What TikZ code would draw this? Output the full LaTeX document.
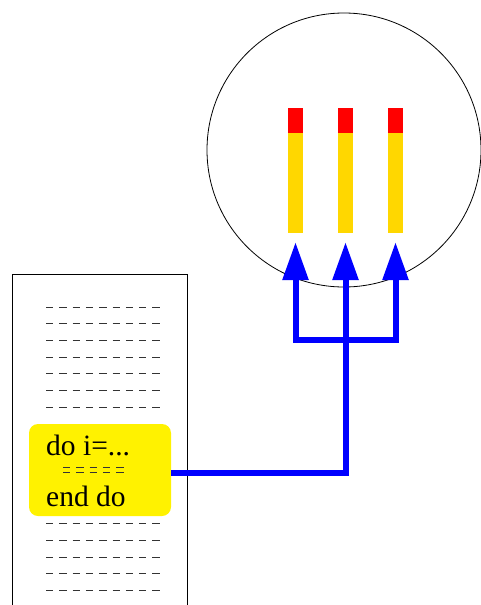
\documentclass[tikz,border=0pt]{standalone}
\usepackage{fontspec}
\setmainfont{Liberation Serif}
\usetikzlibrary{arrows.meta,positioning}

\definecolor{barGold}{RGB}{255,215,0}
\tikzset{bigtip/.tip={Triangle[width=25pt,length=38pt]}}

\begin{document}
\begin{tikzpicture}[x=1pt,y=1pt,
    codeline/.style={black!80,line width=0.9pt,dash pattern=on 7.3pt off 6pt},
    loopbox/.style={fill=yellow,rounded corners=9pt,minimum width=142pt,minimum height=92pt,inner sep=0pt},
    codetext/.style={anchor=base west,inner sep=0pt,font=\fontsize{29.5}{32}\selectfont},
    bar/.style={fill=barGold,minimum width=15pt,minimum height=100pt,inner sep=0pt},
    flow/.style={blue,line width=6pt}]
\useasboundingbox (0,0) rectangle (481,-605); % page size

% program listing
\draw[line width=0.8pt] (12,-605) -- (12,-274) -- (187,-274) -- (187,-605); % sheet
\foreach \y in {307,323.7,340.3,357,373.7,390.3,407,523,540,557,573,590}
    \draw[codeline] (46,-\y) -- (160,-\y); % code lines
\node[loopbox] (loop) at (100,-470) {};
\node[codetext] (dohead) at (46,-455) {do i=...};
\node[codetext] (doend) at (46,-506) {end do};
\draw[codeline] (63,-467) -- (124,-467);
\draw[codeline] (63,-472) -- (124,-472);

% processors
\node[draw,circle,line width=0.8pt,minimum size=274pt,inner sep=0pt] (cpu) at (344,-150) {};
\foreach \i/\x in {1/295.5,2/345.5,3/395.5}{
    \node[bar] (bar\i) at (\x,-183) {};
    \fill[red] (bar\i.north west) rectangle ([yshift=25pt]bar\i.north east); % busy part
    \coordinate (tip\i) at ([yshift=-9pt]bar\i.south);
}
\coordinate (fork) at (345.5,-340);

% distribution of the loop
\draw[flow,-bigtip] ([yshift=-3pt]loop.east) -| (tip2);
\draw[flow,bigtip-bigtip] (tip1) |- (tip3 |- fork) -- (tip3);
\end{tikzpicture}
\end{document}
